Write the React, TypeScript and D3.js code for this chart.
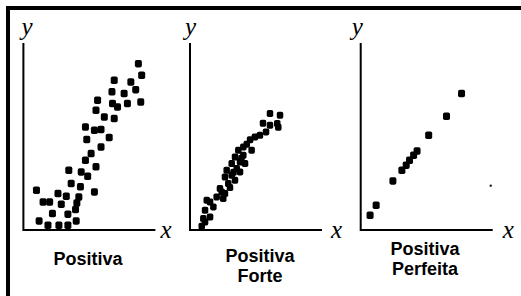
import React from "react";
import * as d3 from "d3";

// Data: values on a 0–10 scale for each axis
const positiva: [number, number][] = [
  [8.71, 8.91], [8.96, 8.29], [6.88, 8.02], [8.14, 7.93], [8.51, 7.52], [6.71, 7.4],
  [7.63, 7.31], [5.62, 6.95], [8.89, 6.86], [7.88, 6.78], [6.75, 6.78], [7.13, 6.59],
  [5.5, 6.42], [6.13, 6.06], [6.88, 5.97], [4.7, 5.52], [5.38, 5.35], [5.88, 5.39],
  [6.5, 4.96], [4.8, 4.85], [5.88, 4.45], [5.13, 4.1], [4.7, 3.74], [5.5, 3.39],
  [3.44, 3.21], [4.38, 3.12], [4.87, 2.89], [3.62, 2.5], [4.32, 2.32], [0.99, 2.14],
  [5.38, 2.05], [2.62, 1.96], [3.25, 1.82], [4.2, 1.78], [1.49, 1.51], [1.99, 1.51],
  [2.87, 1.39], [4.05, 1.46], [3.95, 1.11], [2.2, 0.89], [3.37, 0.86], [1.19, 0.5],
  [4.0, 0.5], [1.86, 0.27], [2.69, 0.27], [3.37, 0.27],
];

const positivaForte: [number, number][] = [
  [6.82, 6.15], [6.06, 6.24], [6.61, 5.71], [6.69, 5.51], [6.06, 5.61], [5.53, 5.72],
  [5.76, 5.26], [5.3, 5.08], [4.92, 4.99], [4.55, 4.84], [4.04, 4.45], [4.67, 4.28],
  [3.66, 4.28], [4.04, 4.01], [3.41, 3.92], [3.79, 3.65], [3.16, 3.57], [4.17, 3.57],
  [3.54, 3.3], [2.78, 3.21], [3.79, 3.12], [3.16, 2.94], [2.65, 2.85], [3.41, 2.67],
  [2.9, 2.5], [2.27, 2.23], [3.03, 2.28], [2.65, 1.96], [2.02, 1.78], [2.52, 1.7],
  [1.52, 1.51], [1.27, 1.6], [1.77, 1.25], [1.14, 1.07], [1.52, 0.71], [1.01, 0.63],
  [1.14, 0.44], [0.89, 0.21], [4.3, 4.6], [3.9, 3.85], [3.3, 3.1], [2.4, 2.05],
];

const positivaPerfeita: [number, number][] = [
  [7.64, 7.31], [6.5, 6.1], [5.15, 5.08], [4.27, 4.24], [4.01, 4.01], [3.7, 3.74],
  [3.45, 3.48], [3.12, 3.21], [2.44, 2.64], [1.17, 1.34], [0.71, 0.8],
];
const perfeitaSpeck: [number, number][] = [[9.85, 2.37]];

const panelTitles: string[][] = [["Positiva"], ["Positiva", "Forte"], ["Positiva", "Perfeita"]];
const panelData = [positiva, positivaForte, positivaPerfeita];
const panelSpecks = [[], [], perfeitaSpeck];

// Layout
const W = 521;
const H = 296;
const axisW = 132;
const yTop = 43;
const yBase = 230;
const layout = [
  { ox: 23.4, titleX: 88, titleY: 265, yLabelDx: -2, xLabelDx: 5, dot: 7 },
  { ox: 190, titleX: 260, titleY: 262, yLabelDx: -5, xLabelDx: 9, dot: 6.5 },
  { ox: 360.7, titleX: 425, titleY: 255, yLabelDx: -9, xLabelDx: 10, dot: 7 },
];

export default function App() {
  return (
    <svg
      width={W}
      height={H}
      style={{ position: "absolute", left: 0, top: 0, background: "#fff" }}
    >
      <rect x={0} y={0} width={W} height={H} fill="#fff" />
      <path d={`M8,${H} V8 H${W}`} fill="none" stroke="#000" strokeWidth={4} />
      {layout.map((L, i) => {
        const x = d3.scaleLinear().domain([0, 10]).range([L.ox, L.ox + axisW]);
        const y = d3.scaleLinear().domain([0, 10]).range([yBase, yTop]);
        const s = L.dot;
        return (
          <g key={i}>
            <path
              d={`M${x(0)},${y(10)} V${y(0)} H${x(10)}`}
              fill="none"
              stroke="#000"
              strokeWidth={2}
            />
            <text
              x={x(0) + L.yLabelDx}
              y={35}
              fontFamily="Liberation Serif"
              fontStyle="italic"
              fontSize={25}
              fill="#000"
            >
              y
            </text>
            <text
              x={x(10) + L.xLabelDx}
              y={237.5}
              fontFamily="Liberation Serif"
              fontStyle="italic"
              fontSize={25}
              fill="#000"
            >
              x
            </text>
            {panelData[i].map((d, j) => (
              <rect
                key={j}
                x={x(d[0]) - s / 2}
                y={y(d[1]) - s / 2}
                width={s}
                height={s + 0.5}
                rx={1.8}
                fill="#000"
              />
            ))}
            {panelSpecks[i].map((d: [number, number], j: number) => (
              <rect key={"s" + j} x={x(d[0]) - 1} y={y(d[1]) - 1} width={2} height={2} fill="#000" />
            ))}
            {panelTitles[i].map((t, j) => (
              <text
                key={"t" + j}
                x={L.titleX}
                y={L.titleY + j * 20}
                textAnchor="middle"
                fontFamily="Liberation Sans, Arial, sans-serif"
                fontWeight="bold"
                fontSize={18}
                fill="#000"
              >
                {t}
              </text>
            ))}
          </g>
        );
      })}
    </svg>
  );
}
